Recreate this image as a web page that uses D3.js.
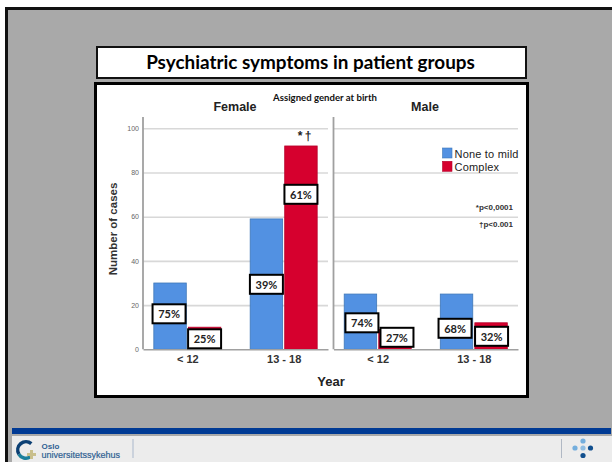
<!DOCTYPE html>
<html>
<head>
<meta charset="utf-8">
<style>
  html, body { margin: 0; padding: 0; background: #fff; }
  svg { display: block; }
  text { font-family: "Liberation Sans", Arial, sans-serif; }
  .calibri { font-family: Lato, "Open Sans", sans-serif; }
</style>
</head>
<body>
<div id="chart"></div>
<script src="https://cdn.jsdelivr.net/npm/d3@7/dist/d3.min.js"></script>
<script>
// Case counts by assigned gender, age group and symptom severity
const panels = ["Female", "Male"];
const ageGroups = ["< 12", "13 - 18"];
const severities = ["None to mild", "Complex"];
const femaleCases = [[30, 10], [59, 92]];
const maleCases = [[25, 9], [25, 12]];
const femaleShares = [["75%", "25%"], ["39%", "61%"]];
const maleShares = [["74%", "27%"], ["68%", "32%"]];
const yTicks = [0, 20, 40, 60, 80, 100];
const notes = ["*p<0,0001", "\u2020p<0.001"];

const seriesByPanel = { Female: femaleCases, Male: maleCases };
const sharesByPanel = { Female: femaleShares, Male: maleShares };

const W = 612, H = 462;
const BLUE = "#5291e2", RED = "#d6002e";

const svg = d3.select("#chart").append("svg").attr("width", W).attr("height", H);

// Slide background and frame
svg.append("rect").attr("x", 6.5).attr("y", 8.5).attr("width", W).attr("height", H)
  .attr("fill", "#a9a9a9").attr("stroke", "#111").attr("stroke-width", 3);

// Title banner
svg.append("rect").attr("x", 97).attr("y", 47).attr("width", 429).attr("height", 31)
  .attr("fill", "#fff").attr("stroke", "#111").attr("stroke-width", 2);
svg.append("text").attr("class", "calibri").attr("x", 310.5).attr("y", 69)
  .attr("text-anchor", "middle").attr("font-size", 18.9).attr("font-weight", 700)
  .attr("fill", "#000").text("Psychiatric symptoms in patient groups");

// White card holding the chart
svg.append("rect").attr("x", 95.5).attr("y", 83.5).attr("width", 432).attr("height", 313)
  .attr("fill", "#fff").attr("stroke", "#000").attr("stroke-width", 3);

const y = d3.scaleLinear().domain([0, 100]).range([349.3, 128.3]);

const panelRange = { Female: [143, 328], Male: [333.5, 518] };

// Overrides for where each share label sits: x from the bar centre, y above the baseline
const labelPlacement = {
  Female: [[[-1, 35.5], [0, 10.5]], [[0, 65], [0, 155]]],
  Male: [[[1.5, 26.5], [2, 12]], [[-1.5, 21], [0.5, 13]]]
};

panels.forEach(panel => {
  const [x0, x1] = panelRange[panel];
  const g = svg.append("g");

  // Gridlines
  g.append("g").attr("transform", `translate(${x0},0)`)
    .call(d3.axisLeft(y).tickValues(yTicks.slice(1)).tickSize(-(x1 - x0)).tickFormat(""))
    .call(a => a.select(".domain").remove())
    .call(a => a.selectAll("line").attr("stroke", "#d8d8d8").attr("stroke-width", 1.6));

  const xGroup = d3.scalePoint().domain(ageGroups).range([x0, x1]).padding(0.46);
  const xBar = d3.scaleBand().domain(severities).range([-33.5, 33.5]).paddingInner(0.06);

  // Bars
  ageGroups.forEach((age, i) => {
    severities.forEach((sev, j) => {
      g.append("rect")
        .attr("x", xGroup(age) + xBar(sev))
        .attr("y", y(seriesByPanel[panel][i][j]))
        .attr("width", xBar.bandwidth())
        .attr("height", y(0) - y(seriesByPanel[panel][i][j]))
        .attr("fill", j === 0 ? BLUE : RED)
        .attr("stroke", j === 0 ? "#3f78b8" : "#b5002a")
        .attr("stroke-width", 0.8);
    });
  });

  // Baseline and vertical axis
  g.append("g").attr("transform", `translate(0,${y(0)})`)
    .call(d3.axisBottom(xGroup).tickSize(0).tickPadding(6))
    .call(a => a.select(".domain").attr("stroke", "#a0a0a0").attr("stroke-width", 1.4))
    .call(a => a.selectAll("text").attr("font-size", 11).attr("font-weight", 700)
      .attr("fill", "#333").style("font-family", '"Liberation Sans", Arial, sans-serif'));
  g.append("line").attr("x1", x0).attr("x2", x0).attr("y1", y(0)).attr("y2", 117)
    .attr("stroke", "#a0a0a0").attr("stroke-width", 1.8);

  // Share labels
  ageGroups.forEach((age, i) => {
    severities.forEach((sev, j) => {
      const [dx, lift] = labelPlacement[panel][i][j];
      const cx = xGroup(age) + xBar(sev) + xBar.bandwidth() / 2 + dx;
      const cy = y(0) - lift;
      g.append("rect").attr("x", cx - 16.5).attr("y", cy - 9.5).attr("width", 33).attr("height", 19)
        .attr("fill", "#fff").attr("stroke", "#000").attr("stroke-width", 2);
      g.append("text").attr("class", "calibri").attr("x", cx).attr("y", cy + 4.2)
        .attr("text-anchor", "middle").attr("font-size", 11).attr("font-weight", 700)
        .attr("fill", "#222").text(sharesByPanel[panel][i][j]);
    });
  });
});

// Panel headers and shared titles
const header = (x, yy, txt, size) => svg.append("text").attr("x", x).attr("y", yy)
  .attr("text-anchor", "middle").attr("font-size", size).attr("font-weight", 700)
  .attr("fill", "#222").text(txt);
header(235, 111, "Female", 12.5);
header(425, 111, "Male", 12.5);
header(331, 386, "Year", 13);
svg.append("text").attr("class", "calibri").attr("x", 325).attr("y", 101)
  .attr("text-anchor", "middle").attr("font-size", 9.6).attr("font-weight", 700)
  .attr("fill", "#111").text("Assigned gender at birth");

// Vertical axis labels
svg.append("g").attr("transform", "translate(143,0)")
  .call(d3.axisLeft(y).tickValues(yTicks).tickSize(0).tickPadding(4))
  .call(a => a.select(".domain").remove())
  .call(a => a.selectAll("text").attr("font-size", 7).attr("fill", "#666")
    .style("font-family", '"Liberation Sans", Arial, sans-serif'));
svg.append("text").attr("transform", "translate(117,229) rotate(-90)")
  .attr("text-anchor", "middle").attr("font-size", 11.5).attr("font-weight", 700)
  .attr("fill", "#333").text("Number of cases");

// Significance marker above the tallest bar
svg.append("text").attr("x", 304.5).attr("y", 140).attr("text-anchor", "middle")
  .attr("font-size", 12).attr("font-weight", 700).attr("fill", "#222").text("*\u2009\u2020");

// Legend
const legend = svg.append("g");
severities.forEach((sev, j) => {
  const top = 148 + j * 13.3;
  legend.append("rect").attr("x", 442.5).attr("y", top).attr("width", 9.5).attr("height", 10)
    .attr("fill", j === 0 ? BLUE : RED).attr("stroke", j === 0 ? "#3f78b8" : "#b5002a").attr("stroke-width", 0.6);
  legend.append("text").attr("x", 454.5).attr("y", top + 9.5).attr("font-size", 11)
    .attr("letter-spacing", 0.2).attr("fill", "#222").text(sev);
});

// Significance notes
notes.forEach((note, i) => {
  svg.append("text").attr("x", 513).attr("y", 210 + i * 17).attr("text-anchor", "end")
    .attr("font-size", 8).attr("font-weight", 700).attr("fill", "#333").text(note);
});

// Footer strip
svg.append("rect").attr("x", 12).attr("y", 428).attr("width", 599).attr("height", 6).attr("fill", "#003a94");
svg.append("rect").attr("x", 12).attr("y", 436).attr("width", 600).attr("height", 26).attr("fill", "#ececec");
svg.append("line").attr("x1", 133).attr("x2", 133).attr("y1", 439).attr("y2", 458)
  .attr("stroke", "#aab8cc").attr("stroke-width", 1);
svg.append("line").attr("x1", 561.5).attr("x2", 561.5).attr("y1", 439).attr("y2", 458)
  .attr("stroke", "#b0b8c4").attr("stroke-width", 1);

// Hospital logo mark and wordmark
const logo = svg.append("g").attr("transform", "translate(26,450)");
const ring = d3.arc().innerRadius(6.5).outerRadius(10);
logo.append("path").attr("d", ring({ startAngle: 2.6, endAngle: 4.2 })).attr("fill", "#1b7f9c");
logo.append("path").attr("d", ring({ startAngle: -2.1, endAngle: 0.7 })).attr("fill", "#0b3f73");
logo.append("path").attr("d", "M1,3h3v-3h3v3h3v3h-3v3h-3v-3h-3z").attr("fill", "#c9bf8c");
svg.append("text").attr("x", 41.5).attr("y", 449).attr("font-size", 8).attr("fill", "#2f5f92")
  .attr("font-weight", 700).text("Oslo");
svg.append("text").attr("x", 41.5).attr("y", 457.5).attr("font-size", 9).attr("fill", "#2f5f92")
  .attr("stroke", "#2f5f92").attr("stroke-width", 0.2).text("universitetssykehus");

// Four-point dot emblem on the right
const dots = [[583, 441, "#74aedd"], [575, 448, "#74aedd"], [583, 448, "#8fbde2"], [590.5, 448, "#114f8e"], [583, 455.5, "#114f8e"]];
svg.append("g").selectAll("circle").data(dots).join("circle")
  .attr("cx", d => d[0]).attr("cy", d => d[1]).attr("r", 2.6).attr("fill", d => d[2]);
</script>
</body>
</html>
